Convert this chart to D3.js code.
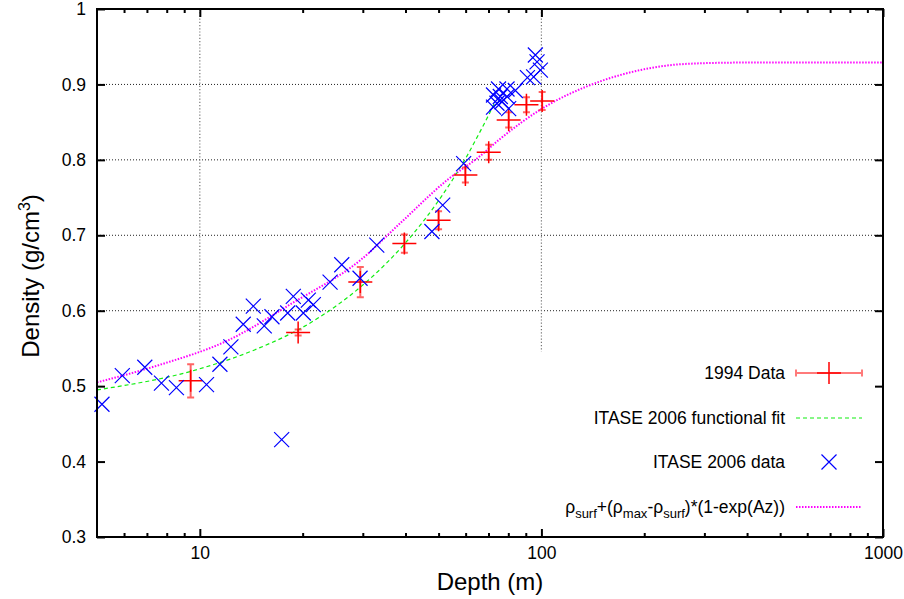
<!DOCTYPE html>
<html>
<head>
<meta charset="utf-8">
<script src="https://cdn.jsdelivr.net/npm/d3@7"></script>
<style>
  body { margin: 0; background: #fff; }
  svg text { font-family: "Liberation Sans", Arial, sans-serif; fill: #000; }
</style>
</head>
<body>
<div id="chart"></div>
<script>
// 1994 cores: depth (m), density, +/- error
var redDepth   = [9.4, 19.4, 29.5, 39.7, 50.0, 59.9, 70.1, 80.2, 90.4, 100.5];
var redDensity = [0.507, 0.571, 0.638, 0.689, 0.720, 0.780, 0.810, 0.853, 0.873, 0.878];
var redErr     = [0.022, 0.004, 0.020, 0.012, 0.012, 0.010, 0.010, 0.010, 0.010, 0.012];

// ITASE 2006 samples
var blueDepth   = [5.17, 5.93, 6.90, 7.72, 8.54, 10.46, 11.45, 12.33, 13.40, 14.34,
                   15.44, 16.26, 17.36, 18.08, 18.78, 20.09, 20.78, 21.49, 24.06, 26.03,
                   29.45, 32.96, 47.8, 51.4, 59.2, 72.4, 72.4, 74.1, 74.9, 75.8,
                   76.7, 79.3, 79.3, 80.2, 83.9, 91.0, 94.9, 96.0, 97.1, 99.3];
var blueDensity = [0.476, 0.514, 0.525, 0.504, 0.498, 0.502, 0.529, 0.552, 0.582, 0.606,
                   0.580, 0.592, 0.429, 0.597, 0.619, 0.597, 0.614, 0.608, 0.638, 0.661,
                   0.643, 0.687, 0.705, 0.740, 0.795, 0.886, 0.870, 0.875, 0.894, 0.884,
                   0.877, 0.894, 0.884, 0.868, 0.892, 0.909, 0.910, 0.939, 0.930, 0.919];

// ITASE 2006 functional fit
var fitDepth   = [5, 10, 15, 20, 25, 30, 35, 40, 45, 50, 55, 60, 65, 70, 73];
var fitDensity = [0.495, 0.523, 0.551, 0.578, 0.606, 0.634, 0.662, 0.690, 0.718, 0.746, 0.774, 0.802, 0.831, 0.859, 0.876];

// rho_surf + (rho_max - rho_surf)*(1-exp(Az)) curve
var expDepth   = [5, 7.6, 12, 18.8, 29.5, 38.6, 52.9, 66.1, 75.8, 100.5, 148.6, 186, 233, 291, 400, 1000];
var expDensity = [0.505, 0.528, 0.560, 0.611, 0.667, 0.716, 0.773, 0.805, 0.828, 0.868, 0.904, 0.917, 0.925, 0.928, 0.929, 0.929];

var xMajor = [10, 100, 1000];
var xMinor = [6, 7, 8, 9, 20, 30, 40, 50, 60, 70, 80, 90, 200, 300, 400, 500, 600, 700, 800, 900];
var yTicks = [0.3, 0.4, 0.5, 0.6, 0.7, 0.8, 0.9, 1];
var yGrid  = [0.6, 0.7, 0.8, 0.9];
var xGrid  = [10, 100];

var W = 904, H = 599;
var margin = {top: 9, right: 21, bottom: 62, left: 97};
var width = W - margin.left - margin.right,
    height = H - margin.top - margin.bottom;

var svg = d3.select("#chart").append("svg")
    .attr("width", W)
    .attr("height", H);

var g = svg.append("g")
    .attr("transform", "translate(" + margin.left + "," + margin.top + ")");

var x = d3.scaleLog().domain([5, 1000]).range([0, width]);
var y = d3.scaleLinear().domain([0.3, 1]).range([height, 0]);

// the key covers the grid below this density
var gridFloor = 0.5455;

g.selectAll(".hgrid").data(yGrid).enter().append("line")
    .attr("x1", 0).attr("x2", width)
    .attr("y1", function(d) { return y(d); })
    .attr("y2", function(d) { return y(d); })
    .attr("stroke", "#222").attr("stroke-width", 1)
    .attr("stroke-dasharray", "1,2");

g.selectAll(".vgrid").data(xGrid).enter().append("line")
    .attr("x1", function(d) { return x(d); })
    .attr("x2", function(d) { return x(d); })
    .attr("y1", 0).attr("y2", y(gridFloor))
    .attr("stroke", "#777").attr("stroke-width", 1.2)
    .attr("stroke-dasharray", "1.2,2");

// axes, ticks pointing inward and mirrored
function styleAxis(sel) {
  sel.select(".domain").remove();
  sel.selectAll(".tick line").attr("stroke", "#000").attr("stroke-width", 2);
  sel.selectAll(".tick text").style("font-size", "17.5px");
}

g.append("g")
    .attr("transform", "translate(0," + height + ")")
    .call(d3.axisBottom(x).tickValues(xMajor).tickSize(-8).tickPadding(10).tickFormat(d3.format("d")))
    .call(styleAxis);
g.append("g")
    .attr("transform", "translate(0," + height + ")")
    .call(d3.axisBottom(x).tickValues(xMinor).tickSize(-4).tickFormat(""))
    .call(styleAxis);
g.append("g")
    .call(d3.axisTop(x).tickValues(xMajor).tickSize(-8).tickFormat(""))
    .call(styleAxis);
g.append("g")
    .call(d3.axisTop(x).tickValues(xMinor).tickSize(-4).tickFormat(""))
    .call(styleAxis);
g.append("g")
    .call(d3.axisLeft(y).tickValues(yTicks).tickSize(-8).tickPadding(11).tickFormat(d3.format("")))
    .call(styleAxis);
g.append("g")
    .attr("transform", "translate(" + width + ",0)")
    .call(d3.axisRight(y).tickValues(yTicks).tickSize(-8).tickFormat(""))
    .call(styleAxis);

// curves
var fitPts = fitDepth.map(function(d, i) { return [d, fitDensity[i]]; });
var expPts = expDepth.map(function(d, i) { return [d, expDensity[i]]; });

var line = d3.line()
    .x(function(d) { return x(d[0]); })
    .y(function(d) { return y(d[1]); })
    .curve(d3.curveMonotoneX);

g.append("path").datum(expPts)
    .attr("d", line)
    .attr("fill", "none")
    .attr("stroke", "#ff00ff").attr("stroke-width", 2)
    .attr("stroke-dasharray", "1.5,1.5");

g.append("path").datum(fitPts)
    .attr("d", line)
    .attr("fill", "none")
    .attr("stroke", "#11ee11").attr("stroke-width", 1.2)
    .attr("stroke-dasharray", "4,3");

// 1994 data: + symbol with capped vertical error bar
var red = g.selectAll(".red").data(redDepth).enter().append("g")
    .attr("transform", function(d, i) { return "translate(" + x(d) + "," + y(redDensity[i]) + ")"; });

red.append("path")
    .attr("d", function(d, i) {
      var e = y(redDensity[i] - redErr[i]) - y(redDensity[i]);
      return "M0," + (-e) + "V" + e +
             "M-3.5," + (-e) + "H3.5M-3.5," + e + "H3.5";
    })
    .attr("stroke", "#ff2222").attr("stroke-width", 2).attr("stroke-opacity", 0.7)
    .attr("fill", "none");
red.append("path")
    .attr("d", "M-12,0H12M0,-11V11")
    .attr("stroke", "#ff0000").attr("stroke-width", 1.5)
    .attr("fill", "none");

// ITASE 2006 data: x markers
g.selectAll(".blue").data(blueDepth).enter().append("path")
    .attr("transform", function(d, i) { return "translate(" + x(d) + "," + y(blueDensity[i]) + ")"; })
    .attr("d", "M-7.5,-7.5L7.5,7.5M-7.5,7.5L7.5,-7.5")
    .attr("stroke", "#0000ff").attr("stroke-width", 1.2)
    .attr("fill", "none");

// frame
g.append("rect")
    .attr("width", width).attr("height", height)
    .attr("fill", "none").attr("stroke", "#000").attr("stroke-width", 2);

// axis titles
svg.append("text")
    .attr("x", 490).attr("y", 590)
    .attr("text-anchor", "middle")
    .style("font-size", "24px")
    .text("Depth (m)");

var ylab = svg.append("text")
    .attr("transform", "translate(39,276) rotate(-90)")
    .attr("text-anchor", "middle")
    .style("font-size", "24px");
ylab.append("tspan").text("Density (g/cm");
ylab.append("tspan").attr("dy", -9).style("font-size", "16px").text("3");
ylab.append("tspan").attr("dy", 9).text(")");

// key
var key = svg.append("g").style("font-size", "17.5px");
var keyX = 785, s0 = 796, s1 = 862;

key.append("text").attr("x", keyX).attr("y", 379).attr("text-anchor", "end").text("1994 Data");
key.append("path")
    .attr("d", "M" + s0 + ",373H" + s1 + "M" + s0 + ",369.5V376.5M" + s1 + ",369.5V376.5")
    .attr("stroke", "#ff2222").attr("stroke-width", 2).attr("stroke-opacity", 0.6).attr("fill", "none");
key.append("path")
    .attr("d", "M" + (829 - 12) + ",373H" + (829 + 12) + "M829,362V384")
    .attr("stroke", "#ff0000").attr("stroke-width", 1.5).attr("fill", "none");

key.append("text").attr("x", keyX).attr("y", 424).attr("text-anchor", "end").text("ITASE 2006 functional fit");
key.append("line")
    .attr("x1", s0).attr("x2", s1).attr("y1", 418).attr("y2", 418)
    .attr("stroke", "#11ee11").attr("stroke-width", 1.2).attr("stroke-dasharray", "4,3");

key.append("text").attr("x", keyX).attr("y", 468).attr("text-anchor", "end").text("ITASE 2006 data");
key.append("path")
    .attr("d", "M821.5,454.5L836.5,469.5M821.5,469.5L836.5,454.5")
    .attr("stroke", "#0000ff").attr("stroke-width", 1.2).attr("fill", "none");

var f = key.append("text").attr("x", keyX).attr("y", 513).attr("text-anchor", "end");
var parts = [["ρ", 0], ["surf", 1], ["+(ρ", 0], ["max", 1], ["-ρ", 0], ["surf", 1], [")*(1-exp(Az))", 0]];
var prev = 0;
parts.forEach(function(p) {
  var shift = p[1] ? 5 : 0;
  f.append("tspan")
      .attr("dy", shift - prev)
      .style("font-size", p[1] ? "13px" : "17.5px")
      .text(p[0]);
  prev = shift;
});
key.append("line")
    .attr("x1", s0).attr("x2", s1).attr("y1", 507).attr("y2", 507)
    .attr("stroke", "#ff00ff").attr("stroke-width", 2).attr("stroke-dasharray", "1.5,1.5");
</script>
</body>
</html>
